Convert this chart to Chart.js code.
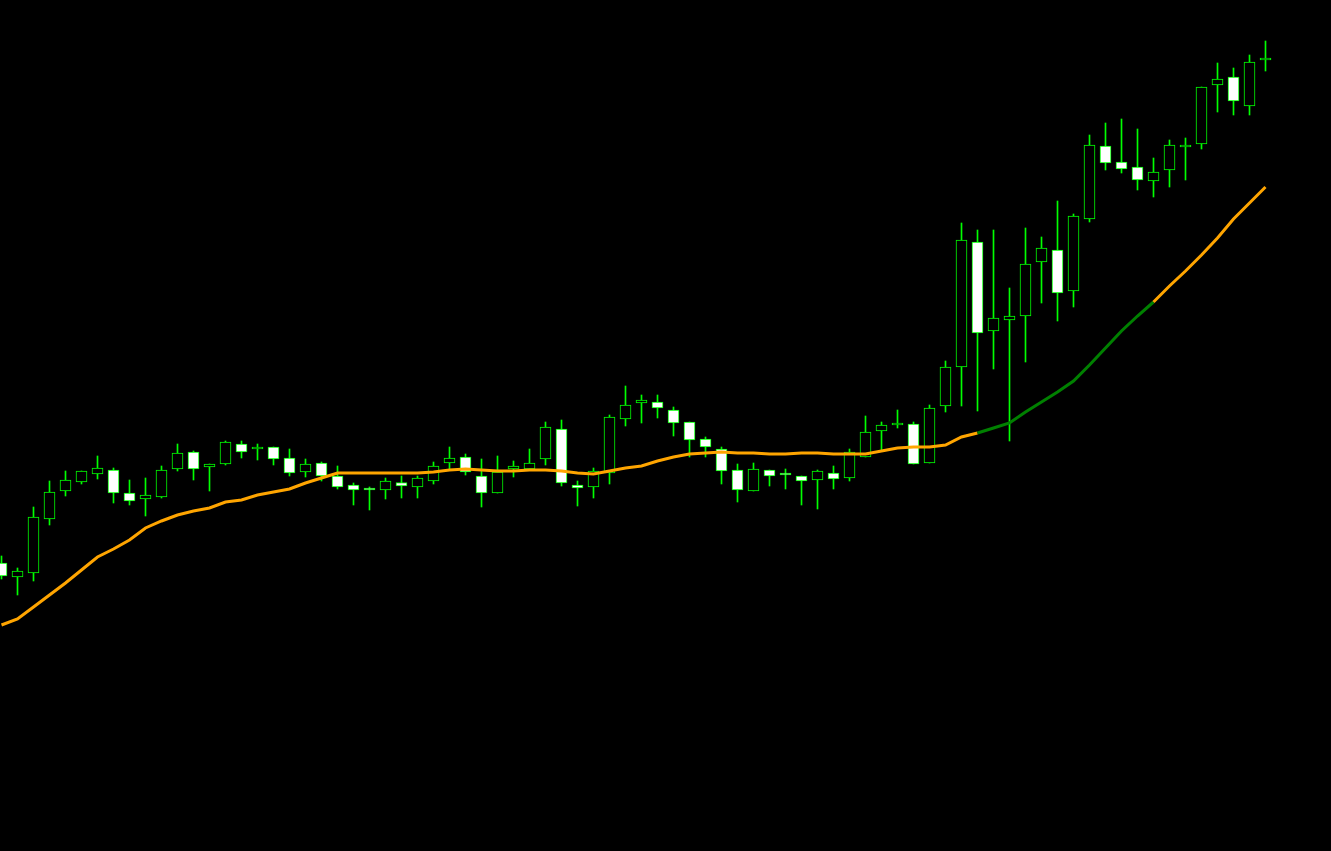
<!DOCTYPE html>
<html>
<head>
<meta charset="utf-8">
<script src="https://cdn.jsdelivr.net/npm/chart.js@4/dist/chart.umd.min.js"></script>
<style>
html,body{margin:0;padding:0;background:#000;overflow:hidden;}
#wrap{width:1331px;height:851px;}
canvas{display:block;}
</style>
</head>
<body>
<div id="wrap"><canvas id="c" width="1331" height="851"></canvas></div>
<script>
// Candle data (price in chart points), one entry per bar
const opens  = [288,274,278,332,360,369,377,381,358,352,354,382,399,384,387,407,402,404,393,379,
                388,375,366,363,361,368.5,364,370,388,394,375,358,382,382,392,422,366,364,378,432,
                448,449,441,429,412,402,381,360,381,378,375,371,378,373,394,420,426,427,388,445,
                484,609,520,531,535,589,601,560,632,705,689,684,670,681,704,707,766,774,745,791];
const highs  = [295,283,344,370,380,380,395,383,371,373,385,407,400,387,410,410,407,404,402,392,
                389,385,368,364,373,375,375,389,404,397,392,395,390,402,429,431,370,383,436,465,
                456,456,444,429,414,404,387,388,381,382,375,381,385,402,435,429,441,429,446,490,
                628,621,621,563,623,614,650,637,716,728,732,722,693,711,713,764,788,783,796,810];
const lows   = [272,256,270,326,355,367,372,348,346,335,353,380,371,360,386,393,391,386,375,374,
                370,362,346,341,352,353,353,367,382,376,344,358,374,382,386,365,345,353,367,425,
                428,433,415,394,394,367,349,360,365,362,346,342,362,370,394,401,423,387,388,439,
                445,440,482,410,489,548,530,544,629,681,678,661,654,664,671,702,739,736,736,780];
const closes = [275,280,334,359,371,380,383,358,350,356,381,398,382,387,409,399,404,392,378,387,
                375,364,361,361,370,365,373,385,393,379,358,379,385,388,424,368,363,380,434,446,
                451,443,428,411,404,380,361,382,375,376,370,380,372,399,419,426,428,387,443,484,
                611,518,533,535,587,603,558,635,706,688,682,671,679,706,706,764,772,750,789,793];
// Moving average values
const maValues = [226,232,244,256,268,281,294,302,311,323,330,336,340,343,349,351,356,359,362,368,
                  373,378,378,378,378,378,378,379,381,382,381,380,380,381,381,380,378,377,380,383,
                  385,390,394,397,398,399,398,398,397,397,398,398,397,397,397,400,403,404,404,406,
                  414,418,423,428,439,449,459,470,486,503,520,535,549,565,580,596,613,632,648,664];
// MA trend colouring: bars in [maUpStart, maUpEnd] drawn in green
const maUpStart = 61;
const maUpEnd = 72;

const idx = opens.map((_, i) => i);
const bodies = idx.map(i => ({x: i, y: [opens[i], closes[i]]}));
const wicks  = idx.map(i => ({x: i, y: [lows[i], highs[i]]}));
const maPts  = idx.map(i => ({x: i, y: maValues[i]}));
const bodyFill = idx.map(i => closes[i] >= opens[i] ? '#000000' : '#ffffff');

const STEP = 16, W = 1331, FIRST_PX = 1.5;
const xMin = -FIRST_PX / STEP;
const xMax = xMin + W / STEP;

new Chart(document.getElementById('c'), {
  type: 'bar',
  data: {
    datasets: [
      {
        type: 'line',
        data: maPts,
        order: 0,
        borderWidth: 3,
        pointRadius: 0,
        tension: 0,
        borderColor: '#ffa500',
        segment: {
          borderColor: ctx => (ctx.p0DataIndex >= maUpStart && ctx.p1DataIndex <= maUpEnd) ? '#008000' : '#ffa500'
        }
      },
      {
        type: 'bar',
        data: bodies,
        order: 1,
        grouped: false,
        barThickness: 11,
        backgroundColor: bodyFill,
        borderColor: '#00ff00',
        borderWidth: 1,
        borderSkipped: false
      },
      {
        type: 'bar',
        data: wicks,
        order: 2,
        grouped: false,
        barThickness: 1,
        backgroundColor: '#00ff00',
        borderWidth: 0
      }
    ]
  },
  options: {
    responsive: false,
    animation: false,
    events: [],
    layout: {padding: 0},
    plugins: {legend: {display: false}, tooltip: {enabled: false}},
    scales: {
      x: {type: 'linear', min: xMin, max: xMax, display: false, offset: false},
      y: {type: 'linear', min: 0, max: 851, display: false}
    }
  },
  plugins: [{
    id: 'bg',
    beforeDraw(chart) {
      const c = chart.ctx;
      c.save();
      c.fillStyle = '#000';
      c.fillRect(0, 0, chart.width, chart.height);
      c.restore();
    }
  }]
});
</script>
</body>
</html>
